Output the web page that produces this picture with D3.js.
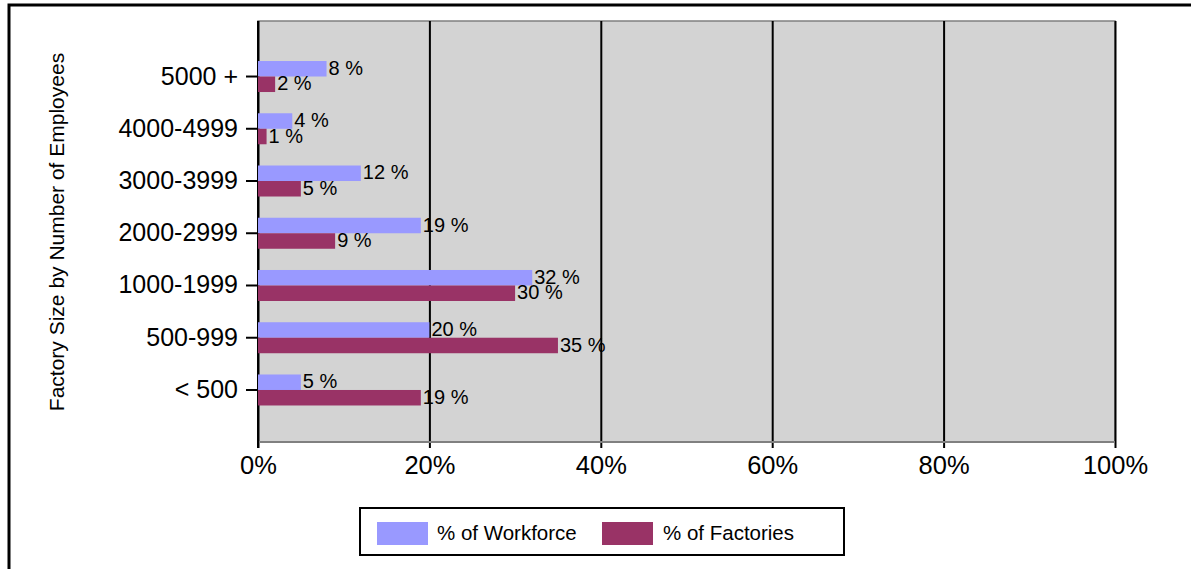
<!DOCTYPE html>
<html>
<head>
<meta charset="utf-8">
<script src="https://cdn.jsdelivr.net/npm/d3@7"></script>
<style>
  html, body { margin: 0; padding: 0; background: #ffffff; }
  svg { display: block; font-family: "Liberation Sans", Arial, sans-serif; }
</style>
</head>
<body>
<svg id="chart" width="1191" height="569"></svg>
<script>
// Factory size bands, top to bottom
const categories = ["5000 +", "4000-4999", "3000-3999", "2000-2999", "1000-1999", "500-999", "< 500"];
// Share of total workforce employed in each size band (%)
const workforce = [8, 4, 12, 19, 32, 20, 5];
// Share of factories falling in each size band (%)
const factories = [2, 1, 5, 9, 30, 35, 19];
const xTicks = [0, 20, 40, 60, 80, 100];
const seriesNames = ["% of Workforce", "% of Factories"];
const seriesColors = ["#9999FF", "#993366"];
const yTitle = "Factory Size by Number of Employees";

const svg = d3.select("#chart");

const plot = { left: 258, right: 1115, top: 21, bottom: 442 };
const x = d3.scaleLinear().domain([0, 100]).range([plot.left, plot.right]);
const y = d3.scaleBand().domain(categories).range([50.4, 416.1]);
const barH = 15.5;

// outer frame
svg.append("rect")
  .attr("x", 9).attr("y", 5).attr("width", 1300).attr("height", 700)
  .attr("fill", "none").attr("stroke", "#000").attr("stroke-width", 3);

// plot background
svg.append("rect")
  .attr("x", plot.left).attr("y", plot.top)
  .attr("width", plot.right - plot.left).attr("height", plot.bottom - plot.top)
  .attr("fill", "#D3D3D3").attr("stroke", "#808080").attr("stroke-width", 1.5);

// vertical gridlines + x tick labels
const xAxis = d3.axisBottom(x)
  .tickValues(xTicks)
  .tickFormat(d => d + "%")
  .tickSize(plot.bottom - plot.top + 6)
  .tickPadding(5);
const gx = svg.append("g").attr("transform", `translate(0,${plot.top})`).call(xAxis);
gx.select(".domain").remove();
gx.selectAll(".tick line").attr("stroke", "#000").attr("stroke-width", 2);
gx.selectAll(".tick text")
  .attr("fill", "#000").attr("font-size", 25.5)
  .attr("font-family", "Liberation Sans, Arial, sans-serif")
  .attr("dy", null)
  .attr("y", 474 - plot.top);

// bottom edge of plot area
svg.append("line")
  .attr("x1", plot.left).attr("x2", plot.right)
  .attr("y1", plot.bottom).attr("y2", plot.bottom)
  .attr("stroke", "#808080").attr("stroke-width", 2);

// y axis
const yAxis = d3.axisLeft(y).tickSize(12).tickPadding(8).tickSizeOuter(0);
const gy = svg.append("g").attr("transform", `translate(${plot.left},0)`).call(yAxis);
gy.select(".domain").remove();
gy.selectAll(".tick line").attr("stroke", "#000").attr("stroke-width", 2);
gy.selectAll(".tick text")
  .attr("fill", "#000").attr("font-size", 25)
  .attr("font-family", "Liberation Sans, Arial, sans-serif");
svg.append("line")
  .attr("x1", plot.left).attr("x2", plot.left)
  .attr("y1", plot.top).attr("y2", plot.bottom + 6)
  .attr("stroke", "#000").attr("stroke-width", 2);

// bars
const series = [workforce, factories];
series.forEach((vals, si) => {
  const g = svg.append("g");
  const rows = categories.map((c, i) => ({ c, v: vals[i] }));
  const yOff = c => y(c) + y.bandwidth() / 2 + (si === 0 ? -barH : 0);
  g.selectAll("rect").data(rows).join("rect")
    .attr("x", x(0))
    .attr("y", d => yOff(d.c))
    .attr("width", d => x(d.v) - x(0))
    .attr("height", barH)
    .attr("fill", seriesColors[si]);
  g.selectAll("text").data(rows).join("text")
    .attr("x", d => x(d.v) + 2)
    .attr("y", d => yOff(d.c) + barH / 2 - 1 + 0.36 * 20)
    .attr("font-size", 20)
    .attr("fill", "#000")
    .text(d => d.v + " %");
});

// y axis title
svg.append("text")
  .attr("transform", `translate(${64},${232}) rotate(-90)`)
  .attr("text-anchor", "middle")
  .attr("font-size", 21)
  .attr("fill", "#000")
  .text(yTitle);

// legend
const lg = svg.append("g");
lg.append("rect")
  .attr("x", 360).attr("y", 508).attr("width", 484).attr("height", 47)
  .attr("fill", "#fff").attr("stroke", "#000").attr("stroke-width", 2);
const legendPos = [{ sx: 377, tx: 437 }, { sx: 602, tx: 663 }];
seriesNames.forEach((name, i) => {
  lg.append("rect")
    .attr("x", legendPos[i].sx).attr("y", 522)
    .attr("width", 51).attr("height", 23)
    .attr("fill", seriesColors[i]);
  lg.append("text")
    .attr("x", legendPos[i].tx).attr("y", 533 + 0.36 * 20.5)
    .attr("font-size", 20.5).attr("fill", "#000")
    .text(name);
});
</script>
</body>
</html>
